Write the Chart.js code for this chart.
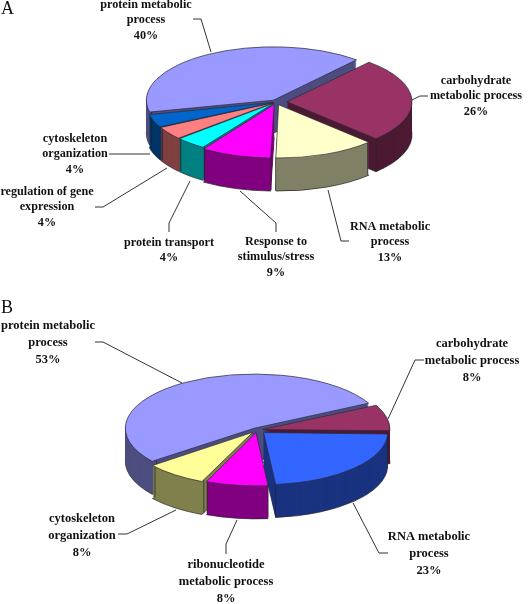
<!DOCTYPE html>
<html>
<head>
<meta charset="utf-8">
<script src="https://cdn.jsdelivr.net/npm/chart.js@4"></script>
<style>
html,body{margin:0;padding:0;background:#fff;width:528px;height:604px;overflow:hidden}
canvas{position:absolute;left:0;filter:blur(0.4px)}
</style>
</head>
<body>
<canvas id="pieA" style="top:0"></canvas>
<canvas id="pieB" style="top:295px"></canvas>
<script>
// ---------- data ----------
const categoriesA = [
  ['protein metabolic', 'process'],
  ['carbohydrate', 'metabolic process'],
  ['RNA metabolic', 'process'],
  ['Response to', 'stimulus/stress'],
  ['protein transport'],
  ['regulation of gene', 'expression'],
  ['cytoskeleton', 'organization']
];
const valuesA = [40, 26, 13, 9, 4, 4, 4];
const colorsA = ['#9999FF', '#993366', '#FFFFCC', '#FF00FF', '#00FFFF', '#FF8080', '#0066CC'];
const sidesA  = ['#4D4D80', '#4D1A33', '#808066', '#800080', '#008080', '#804040', '#003366'];

const categoriesB = [
  ['protein metabolic', 'process'],
  ['carbohydrate', 'metabolic process'],
  ['RNA metabolic', 'process'],
  ['ribonucleotide', 'metabolic process'],
  ['cytoskeleton', 'organization']
];
const valuesB = [53, 8, 23, 8, 8];
const colorsB = ['#9999FF', '#993366', '#3366FF', '#FF00FF', '#FFFF99'];
const sidesB  = ['#4D4D80', '#4D1A33', '#1A3380', '#800080', '#80804D'];

// ---------- layout ----------
const layoutA = {
  letter: 'A', letterY: 9, top: 0, height: 295,
  cx: 276, cy: 102, radius: 125, squash: 0.42, depth: 33, rotation: 257,
  explode: [5, 11, 7, 6, 3, 3, 3], pitch: 15.2, font: 12.2,
  labelPos: [[146, 5], [476, 81], [390, 227], [276, 242], [169, 243], [47, 192], [75, 139]],
  leaders: [
    [[193, 19], [201, 19], [211, 52]],
    [[412, 100], [420, 96], [428, 96]],
    [[328, 190], [341, 241], [349, 241]],
    [[240, 191], [276, 223], [276, 232]],
    [[190, 181], [169, 223], [169, 232]],
    [[167, 168], [103, 207], [95, 207]],
    [[150, 154], [109, 154]]
  ]
};
const layoutB = {
  letter: 'B', letterY: 308, top: 295, height: 309,
  cx: 257, cy: 430, radius: 124, squash: 0.42, depth: 33, rotation: 232,
  explode: [5, 6, 9, 6, 7], pitch: 16.8, font: 12.5,
  labelPos: [[48, 326], [472, 344], [429, 537], [226, 565], [82, 519]],
  leaders: [
    [[95, 342], [103, 342], [182, 383]],
    [[388, 419], [415, 360], [424, 360]],
    [[353, 503], [379, 553], [388, 553]],
    [[237, 520], [226, 544], [226, 554]],
    [[176, 510], [127, 534], [118, 534]]
  ]
};

// ---------- plugin: squash to an ellipse, extrude, annotate ----------
const pie3d = {
  id: 'pie3d',
  beforeDatasetsDraw(chart, args, o) {
    const ctx = chart.ctx, L = o.layout, arcs = chart.getDatasetMeta(0).data;
    const sides = o.sides;
    ctx.save();
    ctx.translate(0, arcs[0].y);
    ctx.scale(1, L.squash);
    ctx.translate(0, -arcs[0].y);
    const order = arcs.map((a, i) => i).sort((p, q) =>
      Math.sin((arcs[p].startAngle + arcs[p].endAngle) / 2) -
      Math.sin((arcs[q].startAngle + arcs[q].endAngle) / 2));
    order.forEach(i => {
      const a = arcs[i], base = a.options;
      for (let d = L.depth; d >= 1; d--) {
        ctx.save();
        ctx.translate(0, d / L.squash);
        a.options = Object.assign(Object.create(base), {
          backgroundColor: sides[i],
          borderColor: '#222',
          borderWidth: d === L.depth ? 1 : 0
        });
        a.draw(ctx);
        ctx.restore();
      }
      a.options = base;
      // dark vertical edges where the slice's cut faces meet the rim
      const mid = (a.startAngle + a.endAngle) / 2, shift = base.offset / 4;
      ctx.strokeStyle = '#222';
      ctx.lineWidth = 1;
      [a.startAngle, a.endAngle].forEach(ang => {
        if (Math.sin(ang) <= 0) return;
        const x = a.x + Math.cos(mid) * shift + Math.cos(ang) * a.outerRadius;
        const y = a.y + Math.sin(mid) * shift + Math.sin(ang) * a.outerRadius;
        ctx.beginPath();
        ctx.moveTo(x, y);
        ctx.lineTo(x, y + L.depth / L.squash);
        ctx.stroke();
      });
    });
  },
  afterDatasetsDraw(chart, args, o) {
    const ctx = chart.ctx, L = o.layout;
    ctx.restore();
    ctx.save();
    ctx.translate(0, -L.top);
    ctx.strokeStyle = '#333';
    ctx.lineWidth = 1;
    L.leaders.forEach(p => {
      ctx.beginPath();
      p.forEach((q, i) => i ? ctx.lineTo(q[0], q[1]) : ctx.moveTo(q[0], q[1]));
      ctx.stroke();
    });
    ctx.fillStyle = '#111';
    ctx.textAlign = 'center';
    ctx.textBaseline = 'middle';
    ctx.font = 'bold ' + L.font + 'px "Liberation Serif"';
    const ds = chart.data.datasets[0];
    chart.data.labels.forEach((lab, i) => {
      const lines = lab.concat(ds.data[i] + '%');
      lines.forEach((t, j) => ctx.fillText(t, L.labelPos[i][0], L.labelPos[i][1] + j * L.pitch));
    });
    ctx.textAlign = 'left';
    ctx.font = '18px "Liberation Serif"';
    ctx.fillText(L.letter, 1, L.letterY);
    ctx.restore();
  }
};

function makePie(id, labels, values, colors, sides, L) {
  const y = L.cy - L.top;
  const cv = document.getElementById(id);
  cv.width = 528; cv.height = L.height;
  return new Chart(cv, {
    type: 'pie',
    data: {
      labels: labels,
      datasets: [{
        data: values,
        backgroundColor: colors,
        borderColor: '#2a2a3a',
        borderWidth: 1,
        offset: L.explode.map(v => v * 4),
        radius: L.radius,
        clip: false
      }]
    },
    options: {
      responsive: false,
      animation: false,
      rotation: L.rotation,
      layout: { padding: {
        left: Math.max(0, 2 * L.cx - 528), right: Math.max(0, 528 - 2 * L.cx),
        top: Math.max(0, 2 * y - L.height), bottom: Math.max(0, L.height - 2 * y)
      } },
      plugins: {
        legend: { display: false },
        tooltip: { enabled: false },
        pie3d: { layout: L, sides: sides }
      }
    },
    plugins: [pie3d]
  });
}
makePie('pieA', categoriesA, valuesA, colorsA, sidesA, layoutA);
makePie('pieB', categoriesB, valuesB, colorsB, sidesB, layoutB);
</script>
</body>
</html>
